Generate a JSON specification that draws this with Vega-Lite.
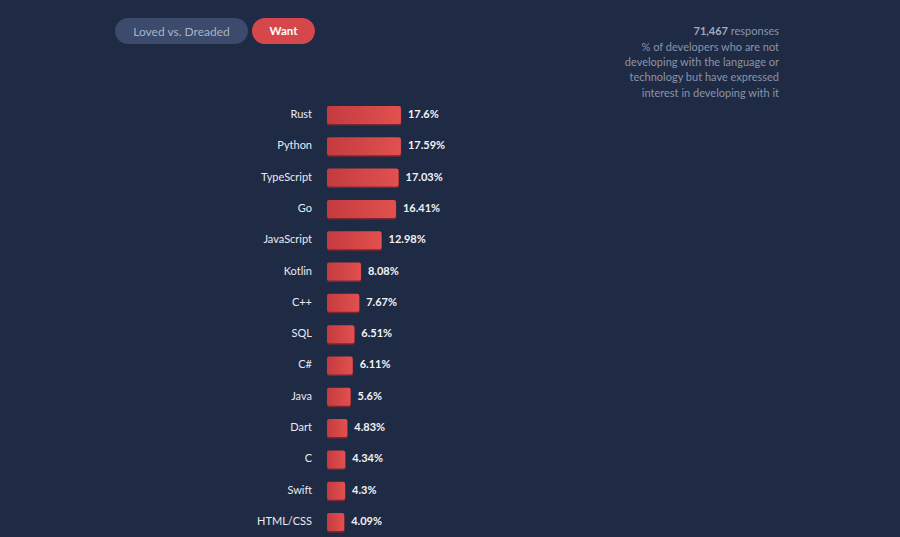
{
  "$schema": "https://vega.github.io/schema/vega-lite/v6.json",
  "width": 900,
  "height": 537,
  "autosize": {"type": "fit", "contains": "padding"},
  "padding": 0,
  "background": "#1f2a44",
  "config": {"view": {"stroke": null}, "font": "Lato"},
  "resolve": {"scale": {"y": "independent"}},
  "layer": [
    {
      "data": {
        "values": [
          {"lang": "Rust", "pct": 17.6},
          {"lang": "Python", "pct": 17.59},
          {"lang": "TypeScript", "pct": 17.03},
          {"lang": "Go", "pct": 16.41},
          {"lang": "JavaScript", "pct": 12.98},
          {"lang": "Kotlin", "pct": 8.08},
          {"lang": "C++", "pct": 7.67},
          {"lang": "SQL", "pct": 6.51},
          {"lang": "C#", "pct": 6.11},
          {"lang": "Java", "pct": 5.6},
          {"lang": "Dart", "pct": 4.83},
          {"lang": "C", "pct": 4.34},
          {"lang": "Swift", "pct": 4.3},
          {"lang": "HTML/CSS", "pct": 4.09}
        ]
      },
      "transform": [{"calculate": "format(datum.pct, '.2~f') + '%'", "as": "label"}],
      "encoding": {
        "y": {
          "field": "lang", "type": "nominal", "sort": null, "axis": null,
          "scale": {"range": [106, 531], "paddingInner": 0.425, "paddingOuter": 0}
        },
        "x": {
          "field": "pct", "type": "quantitative", "axis": null,
          "scale": {"domain": [-77.86, 136.43], "nice": false, "zero": false}
        }
      },
      "layer": [
        {
          "mark": {"type": "bar", "color": "#7e2630", "cornerRadius": 2, "yOffset": 1.5, "xOffset": 0.5},
          "encoding": {"x2": {"datum": 0}}
        },
        {
          "mark": {
            "type": "bar", "cornerRadius": 2,
            "color": {
              "gradient": "linear", "x1": 0, "y1": 0, "x2": 1, "y2": 0,
              "stops": [{"offset": 0, "color": "#c43b3f"}, {"offset": 1, "color": "#e2504f"}]
            }
          },
          "encoding": {"x2": {"datum": 0}}
        },
        {
          "mark": {"type": "text", "align": "right", "baseline": "middle", "dx": -15, "fontSize": 11, "color": "#e8eaf0"},
          "encoding": {"x": {"datum": 0, "type": "quantitative"}, "text": {"field": "lang"}}
        },
        {
          "mark": {"type": "text", "align": "left", "baseline": "middle", "dx": 7, "fontSize": 11, "fontWeight": "bold", "color": "#f2f3f6"},
          "encoding": {"text": {"field": "label"}}
        }
      ]
    },
    {
      "data": {"values": [{}]},
      "layer": [
        {
          "mark": {"type": "bar", "cornerRadius": 13, "color": "#3c4a6b"},
          "encoding": {
            "x": {"datum": -50.48, "type": "quantitative"},
            "x2": {"datum": -18.81},
            "y": {"datum": 18, "type": "quantitative", "axis": null, "scale": {"domain": [0, 537], "reverse": true, "nice": false, "zero": false}},
            "y2": {"datum": 44}
          }
        },
        {
          "mark": {"type": "bar", "cornerRadius": 13, "color": "#d6474b"},
          "encoding": {
            "x": {"datum": -17.86, "type": "quantitative"},
            "x2": {"datum": -2.86},
            "y": {"datum": 18, "type": "quantitative"},
            "y2": {"datum": 44}
          }
        },
        {
          "mark": {"type": "text", "align": "center", "baseline": "middle", "fontSize": 12, "color": "#aab3c6", "text": "Loved vs. Dreaded"},
          "encoding": {
            "x": {"datum": -34.64, "type": "quantitative"},
            "y": {"datum": 31.5, "type": "quantitative"}
          }
        },
        {
          "mark": {"type": "text", "align": "center", "baseline": "middle", "fontSize": 11.5, "fontWeight": "bold", "color": "#ffffff", "text": "Want"},
          "encoding": {
            "x": {"datum": -10.36, "type": "quantitative"},
            "y": {"datum": 31.5, "type": "quantitative"}
          }
        },
        {
          "mark": {"type": "text", "align": "right", "baseline": "alphabetic", "fontSize": 11, "fontWeight": "bold", "color": "#a3abbb", "dx": -51, "text": "71,467"},
          "encoding": {
            "x": {"datum": 107.62, "type": "quantitative"},
            "y": {"datum": 35, "type": "quantitative"}
          }
        },
        {
          "mark": {"type": "text", "align": "right", "baseline": "alphabetic", "fontSize": 11, "color": "#8b94a7", "text": "responses"},
          "encoding": {
            "x": {"datum": 107.62, "type": "quantitative"},
            "y": {"datum": 35, "type": "quantitative"}
          }
        },
        {
          "mark": {
            "type": "text", "align": "right", "baseline": "alphabetic", "fontSize": 11, "lineHeight": 15.2, "color": "#8b94a7",
            "text": ["% of developers who are not", "developing with the language or", "technology but have expressed", "interest in developing with it"]
          },
          "encoding": {
            "x": {"datum": 107.62, "type": "quantitative"},
            "y": {"datum": 51, "type": "quantitative"}
          }
        }
      ]
    }
  ]
}
